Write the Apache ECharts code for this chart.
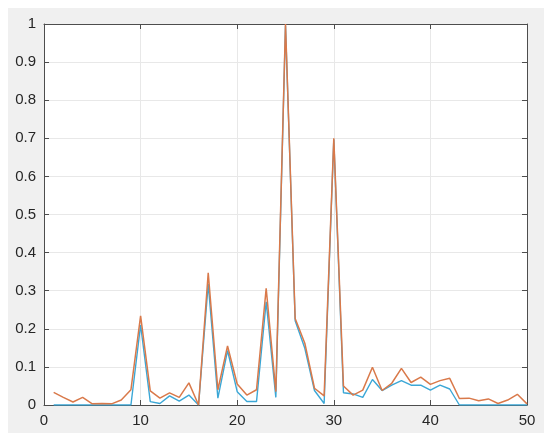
<!DOCTYPE html>
<html>
<head>
<meta charset="utf-8">
<script src="https://cdn.jsdelivr.net/npm/echarts@6/dist/echarts.min.js"></script>
<style>
  html, body { margin: 0; padding: 0; background: #fff; }
  #main { width: 550px; height: 442px; }
</style>
</head>
<body>
<div id="main"></div>
<script>
// x positions (sample index)
var xIndex = [1, 2, 3, 4, 5, 6, 7, 8, 9, 10,
    11, 12, 13, 14, 15, 16, 17, 18, 19, 20,
    21, 22, 23, 24, 25, 26, 27, 28, 29, 30,
    31, 32, 33, 34, 35, 36, 37, 38, 39, 40,
    41, 42, 43, 44, 45, 46, 47, 48, 49, 50];

// orange line
var orangeVals = [0.033, 0.02, 0.008, 0.02, 0.003, 0.004, 0.003, 0.013, 0.04, 0.234,
    0.037, 0.018, 0.032, 0.02, 0.058, 0.0, 0.347, 0.04, 0.155, 0.055,
    0.026, 0.04, 0.306, 0.035, 1.0, 0.227, 0.162, 0.044, 0.024, 0.70,
    0.05, 0.026, 0.039, 0.099, 0.038, 0.057, 0.096, 0.059, 0.073, 0.054,
    0.064, 0.07, 0.017, 0.018, 0.011, 0.016, 0.004, 0.013, 0.028, 0.003];

// blue line
var blueVals = [0, 0, 0, 0, 0, 0, 0, 0, 0, 0.21,
    0.009, 0.004, 0.024, 0.01, 0.026, 0.0, 0.318, 0.018, 0.143, 0.035,
    0.009, 0.009, 0.271, 0.02, 0.995, 0.221, 0.149, 0.038, 0.004, 0.697,
    0.032, 0.029, 0.02, 0.067, 0.038, 0.052, 0.064, 0.052, 0.052, 0.039,
    0.052, 0.042, 0, 0, 0, 0, 0, 0, 0, 0];

var xTicks = { min: 0, max: 50, step: 10 };
var yTicks = { min: 0, max: 1, step: 0.1 };

function pairs(xs, ys) {
    var out = [];
    for (var i = 0; i < xs.length; i++) out.push([xs[i], ys[i]]);
    return out;
}

var chart = echarts.init(document.getElementById('main'), null, { renderer: 'canvas' });

var labelFont = { color: '#262626', fontSize: 15, fontFamily: 'Liberation Sans, Arial, sans-serif' };

var baseX = {
    type: 'value', min: xTicks.min, max: xTicks.max, interval: xTicks.step,
    axisLine: { show: true, onZero: false, lineStyle: { color: '#4d4d4d', width: 1 } },
    axisTick: { show: true, inside: true, length: 5, lineStyle: { color: '#4d4d4d' } },
    splitLine: { show: false }
};
var baseY = {
    type: 'value', min: yTicks.min, max: yTicks.max, interval: yTicks.step,
    axisLine: { show: true, onZero: false, lineStyle: { color: '#4d4d4d', width: 1 } },
    axisTick: { show: true, inside: true, length: 5, lineStyle: { color: '#4d4d4d' } },
    splitLine: { show: false }
};

chart.setOption({
    backgroundColor: '#fff',
    animation: false,
    graphic: [{
        type: 'rect', z: -10, silent: true,
        shape: { x: 8, y: 8, width: 536, height: 425 },
        style: { fill: '#f0f0f0' }
    }],
    grid: {
        left: 44, right: 23, top: 24, bottom: 37,
        show: true, backgroundColor: '#fff', borderColor: 'transparent'
    },
    xAxis: [
        Object.assign({}, baseX, {
            position: 'bottom',
            axisLabel: Object.assign({ margin: 8 }, labelFont),
            splitLine: { show: true, lineStyle: { color: '#e8e8e8', width: 1 } }
        }),
        Object.assign({}, baseX, { position: 'top', axisLabel: { show: false } })
    ],
    yAxis: [
        Object.assign({}, baseY, {
            position: 'left',
            axisLabel: Object.assign({
                margin: 8,
                formatter: function (v) { return String(Math.round(v * 10) / 10); }
            }, labelFont),
            splitLine: { show: true, lineStyle: { color: '#e8e8e8', width: 1 } }
        }),
        Object.assign({}, baseY, { position: 'right', axisLabel: { show: false } })
    ],
    series: [
        {
            name: 'blue', type: 'line', xAxisIndex: 0, yAxisIndex: 0,
            data: pairs(xIndex, blueVals),
            showSymbol: false, symbol: 'none',
            lineStyle: { color: '#3ba7d6', width: 1.4 },
            z: 2
        },
        {
            name: 'orange', type: 'line', xAxisIndex: 0, yAxisIndex: 0,
            data: pairs(xIndex, orangeVals),
            showSymbol: false, symbol: 'none',
            lineStyle: { color: '#d9794a', width: 1.5 },
            z: 3
        }
    ]
});

window.onresize = chart.resize;
</script>
</body>
</html>
